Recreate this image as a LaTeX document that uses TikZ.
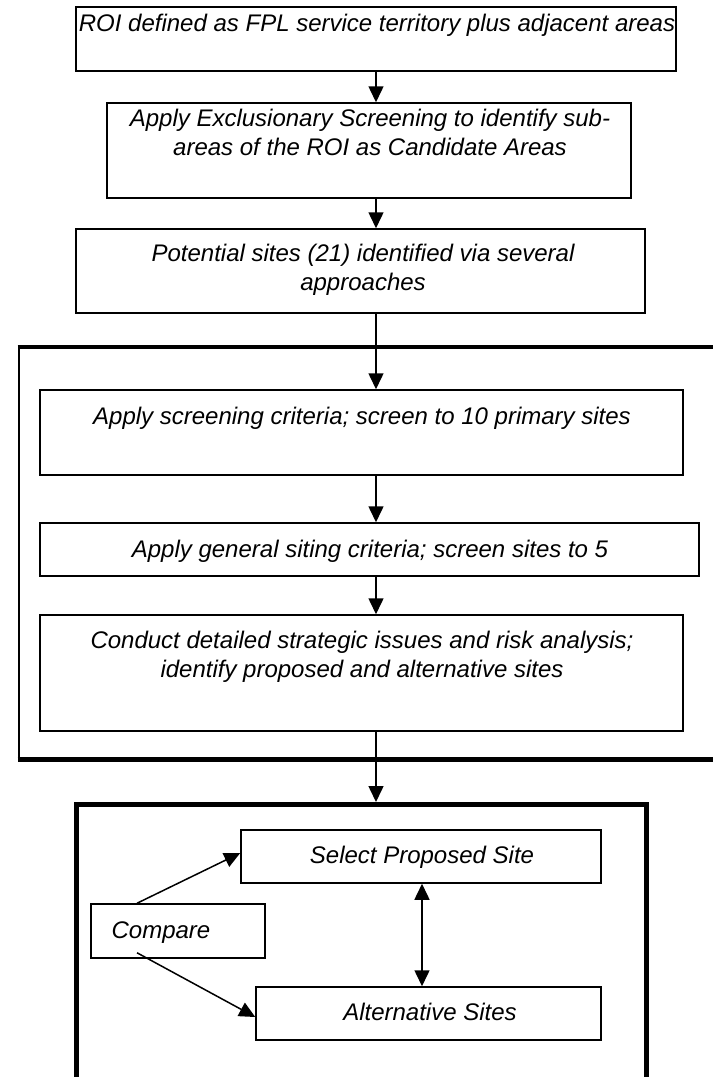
\documentclass[tikz,border=0pt]{standalone}
\usepackage{fontspec}
\setmainfont{Liberation Sans}
\usetikzlibrary{arrows.meta,calc}
\begin{document}
\begin{tikzpicture}[x=1bp,y=-1bp,
  box/.style={draw=black,line width=1.5bp,rectangle,inner sep=0pt,fill=none},
  txt/.style={inner sep=0pt,anchor=base,align=center,font=\fontsize{24bp}{29bp}\selectfont\itshape},
  arr/.style={line width=1.5bp,-{Triangle[width=15bp,length=16bp]}},
  darr/.style={line width=1.5bp,{Triangle[width=15bp,length=16bp]}-{Triangle[width=15bp,length=16bp]}},
  heavy/.style={line width=5bp,draw=black}]
\useasboundingbox (0,0) rectangle (713,1077);
% upper chain
\node[box,minimum width=600bp,minimum height=64bp] (b1) at (376,39) {};
\node[txt] (t1) at (377,31) {ROI defined as FPL service territory plus adjacent areas};
\node[box,minimum width=524bp,minimum height=95bp] (b2) at (369,150.5) {};
\node[txt] (t2) at (370,155) {Apply Exclusionary Screening to identify sub-\\areas of the ROI as Candidate Areas};
\node[box,minimum width=569bp,minimum height=84bp] (b3) at (360.5,271) {};
\node[txt] (t3) at (363,290) {Potential sites (21) identified via several\\approaches};
% bracket
\draw[line width=4.5bp] (17.5,347) -- (720,347);
\draw[line width=2bp] (18.5,346) -- (18.5,760);
\draw[line width=5bp] (17.5,759.5) -- (720,759.5);
\node[box,minimum width=643bp,minimum height=85bp] (b4) at (361.5,432.5) {};
\node[txt] (t4) at (362,424) {Apply screening criteria; screen to 10 primary sites};
\node[box,minimum width=659bp,minimum height=53bp] (b5) at (369.5,549.5) {};
\node[txt] (t5) at (370,557) {Apply general siting criteria; screen sites to 5};
\node[box,minimum width=643bp,minimum height=116bp] (b6) at (361.5,673) {};
\node[txt] (t6) at (362,677) {Conduct detailed strategic issues and risk analysis;\\identify proposed and alternative sites};
% bottom container
\node[heavy,rectangle,inner sep=0pt,minimum width=569.5bp,minimum height=280bp] (fin) at (361.25,944.5) {};
\node[box,minimum width=360bp,minimum height=53bp] (sel) at (421,856.5) {};
\node[txt] (tsel) at (422,863) {Select Proposed Site};
\node[box,minimum width=174bp,minimum height=54bp] (cmp) at (178,931) {};
\node[txt] (tcmp) at (161,938) {Compare};
\node[box,minimum width=345bp,minimum height=53bp] (alt) at (428.5,1013.5) {};
\node[txt] (talt) at (430,1020) {Alternative Sites};
% connectors
\coordinate (cx) at (376,0);
\draw[arr] (b1.south -| cx) -- (b2.north -| cx);
\draw[arr] (b2.south -| cx) -- (b3.north -| cx);
\draw[arr] (b3.south -| cx) -- (b4.north -| cx);
\draw[arr] (b4.south -| cx) -- (b5.north -| cx);
\draw[arr] (b5.south -| cx) -- (b6.north -| cx);
\draw[arr] (b6.south -| cx) -- (fin.north -| cx);
\draw[arr] ($(cmp.north)+(-41,0)$) -- ($(sel.west)+(0,-3.5)$);
\draw[arr] ($(cmp.south)+(-41,-6)$) -- ($(alt.west)+(0,3.5)$);
\draw[darr] ($(sel.south)+(1,0)$) -- ($(alt.north)+(-6.5,0)$);
\end{tikzpicture}
\end{document}
